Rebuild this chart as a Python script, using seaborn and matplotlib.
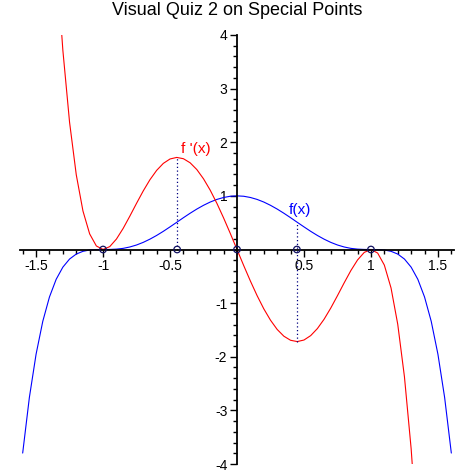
import numpy as np
import pandas as pd
import matplotlib
matplotlib.use("Agg")
import matplotlib.pyplot as plt
from matplotlib.ticker import MultipleLocator, FixedLocator, FixedFormatter
import seaborn as sns

# ---- data ----
x_vals = [-1.6, -1.55, -1.5, -1.45, -1.4, -1.35, -1.3, -1.25, -1.2, -1.15, -1.1, -1.05,
          -1.0, -0.95, -0.9, -0.85, -0.8, -0.75, -0.7, -0.65, -0.6, -0.55, -0.5, -0.45,
          -0.4, -0.35, -0.3, -0.25, -0.2, -0.15, -0.1, -0.05, 0.0, 0.05, 0.1, 0.15, 0.2,
          0.25, 0.3, 0.35, 0.4, 0.45, 0.5, 0.55, 0.6, 0.65, 0.7, 0.75, 0.8, 0.85, 0.9,
          0.95, 1.0, 1.05, 1.1, 1.15, 1.2, 1.25, 1.3, 1.35, 1.4, 1.45, 1.5, 1.55, 1.6]
f_vals = [-3.796, -2.759, -1.953, -1.340, -0.885, -0.556, -0.329, -0.178, -0.085, -0.034,
          -0.009, -0.001, 0.0, 0.001, 0.007, 0.021, 0.047, 0.084, 0.133, 0.193, 0.262,
          0.339, 0.422, 0.507, 0.593, 0.676, 0.754, 0.824, 0.885, 0.934, 0.970, 0.993,
          1.0, 0.993, 0.970, 0.934, 0.885, 0.824, 0.754, 0.676, 0.593, 0.507, 0.422,
          0.339, 0.262, 0.193, 0.133, 0.084, 0.047, 0.021, 0.007, 0.001, 0.0, -0.001,
          -0.009, -0.034, -0.085, -0.178, -0.329, -0.556, -0.885, -1.340, -1.953, -2.759,
          -3.796]
dx_vals = [-1.4, -1.35, -1.3, -1.25, -1.2, -1.15, -1.1, -1.05, -1.0, -0.95, -0.9, -0.85,
           -0.8, -0.75, -0.7, -0.65, -0.6, -0.55, -0.5, -0.45, -0.4, -0.35, -0.3, -0.25,
           -0.2, -0.15, -0.1, -0.05, 0.0, 0.05, 0.1, 0.15, 0.2, 0.25, 0.3, 0.35, 0.4,
           0.45, 0.5, 0.55, 0.6, 0.65, 0.7, 0.75, 0.8, 0.85, 0.9, 0.95, 1.0, 1.05, 1.1,
           1.15, 1.2, 1.25, 1.3, 1.35, 1.4]
df_vals = [7.741, 5.480, 3.714, 2.373, 1.394, 0.718, 0.291, 0.066, 0.0, 0.054, 0.195,
           0.393, 0.622, 0.861, 1.092, 1.301, 1.475, 1.606, 1.688, 1.717, 1.693, 1.617,
           1.491, 1.318, 1.106, 0.860, 0.588, 0.299, 0.0, -0.299, -0.588, -0.860, -1.106,
           -1.318, -1.491, -1.617, -1.693, -1.717, -1.688, -1.606, -1.475, -1.301, -1.092,
           -0.861, -0.622, -0.393, -0.195, -0.054, 0.0, -0.066, -0.291, -0.718, -1.394,
           -2.373, -3.714, -5.480, -7.741]
special_x = [-1.0, -0.447, 0.0, 0.447, 1.0]
special_y = [0.0, 0.0, 0.0, 0.0, 0.0]
guide_x = [-0.447, 0.447]
guide_lo = [0.0, -1.717]
guide_hi = [1.717, 0.512]
x_ticks = [-1.5, -1.0, -0.5, 0.5, 1.0, 1.5]
x_labels = ["-1.5", "-1", "-0.5", "0.5", "1", "1.5"]
y_ticks = [-4, -3, -2, -1, 1, 2, 3, 4]
y_labels = ["-4", "-3", "-2", "-1", "1", "2", "3", "4"]
title = "Visual Quiz 2 on Special Points"

sns.set_style("white")
plt.rcParams["font.family"] = ["Liberation Sans", "DejaVu Sans"]

fig = plt.figure(figsize=(4.74, 4.74), dpi=100)
ax = fig.add_axes([20 / 474, 1 - 464 / 474, 434 / 474, 429 / 474])

f_df = pd.DataFrame({"x": x_vals, "y": f_vals})
d_df = pd.DataFrame({"x": dx_vals, "y": df_vals})
sns.lineplot(data=f_df, x="x", y="y", color="#0000ff", lw=0.8, ax=ax,
             sort=False, estimator=None)
sns.lineplot(data=d_df, x="x", y="y", color="#ff0000", lw=0.8, ax=ax,
             sort=False, estimator=None)

for gx, lo, hi in zip(guide_x, guide_lo, guide_hi):
    ax.plot([gx, gx], [lo, hi], color="#000080", lw=0.9, ls=(0, (1, 2)))

sns.scatterplot(x=special_x, y=special_y, ax=ax, marker="o", s=22,
                facecolor="none", edgecolor="#101060", linewidth=0.9, zorder=5)

ax.text(-0.415, 1.88, "f '(x)", color="#ff0000", fontsize=11, ha="left", va="center")
ax.text(0.385, 0.74, "f(x)", color="#0000ff", fontsize=11, ha="left", va="center")

ax.set_xlim(-1.62, 1.62)
ax.set_ylim(-4, 4)
ax.set_xlabel("")
ax.set_ylabel("")

for s in ["top", "right"]:
    ax.spines[s].set_visible(False)
ax.spines["left"].set_position(("data", 0))
ax.spines["bottom"].set_position(("data", 0))
ax.spines["left"].set_linewidth(1.3)
ax.spines["bottom"].set_linewidth(1.3)
ax.spines["left"].set_color("black")
ax.spines["bottom"].set_color("black")

ax.xaxis.set_major_locator(FixedLocator(x_ticks))
ax.xaxis.set_major_formatter(FixedFormatter(x_labels))
ax.yaxis.set_major_locator(FixedLocator(y_ticks))
ax.yaxis.set_major_formatter(FixedFormatter(y_labels))
ax.xaxis.set_minor_locator(MultipleLocator(0.1))
ax.yaxis.set_minor_locator(MultipleLocator(0.2))
ax.tick_params(axis="both", which="major", direction="out", length=5, width=1,
               labelsize=10, colors="black", pad=2)
ax.tick_params(axis="both", which="minor", direction="out", length=3, width=1,
               colors="black")
ax.tick_params(bottom=True, left=True, which="both")

fig.suptitle(title, fontsize=13, y=0.995, va="top", color="black")

fig.savefig("out.png", dpi=100)
